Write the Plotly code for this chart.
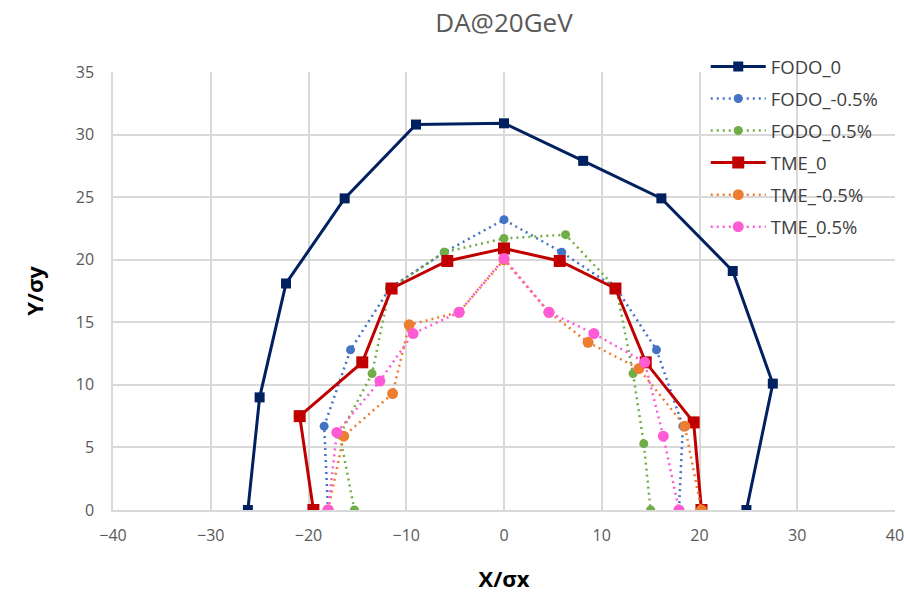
import plotly.graph_objects as go

# Dynamic aperture boundaries at 20 GeV, in units of beam sigma
fodo0_x = [-26.2, -25.0, -22.3, -16.3, -9.0, 0.0, 8.1, 16.1, 23.4, 27.5, 24.8]
fodo0_y = [0.0, 9.0, 18.1, 24.9, 30.8, 30.9, 27.9, 24.9, 19.1, 10.1, 0.0]

fodo_m_x = [-18.0, -18.4, -15.7, -11.7, -6.1, 0.0, 5.9, 11.5, 15.6, 18.3, 17.9]
fodo_m_y = [0.0, 6.7, 12.8, 17.7, 20.6, 23.2, 20.6, 17.7, 12.8, 6.7, 0.0]

fodo_p_x = [-15.3, -16.8, -13.5, -11.7, -6.1, 0.0, 6.3, 11.5, 13.2, 14.3, 15.0]
fodo_p_y = [0.0, 6.0, 10.9, 17.7, 20.6, 21.7, 22.0, 17.7, 10.9, 5.3, 0.0]

tme0_x = [-19.5, -20.9, -14.5, -11.5, -5.8, 0.0, 5.7, 11.4, 14.5, 19.4, 20.2]
tme0_y = [0.0, 7.5, 11.8, 17.7, 19.9, 20.9, 19.9, 17.7, 11.8, 7.0, 0.0]

tme_m_x = [-18.0, -16.4, -11.4, -9.7, -4.6, 0.0, 4.6, 8.6, 13.8, 18.5, 20.2]
tme_m_y = [0.0, 5.9, 9.3, 14.8, 15.8, 20.0, 15.8, 13.4, 11.3, 6.7, 0.0]

tme_p_x = [-18.0, -17.1, -12.7, -9.3, -4.6, 0.0, 4.6, 9.2, 14.4, 16.3, 17.9]
tme_p_y = [0.0, 6.2, 10.3, 14.1, 15.8, 20.1, 15.8, 14.1, 11.8, 5.9, 0.0]

series = [
    ("FODO_0", fodo0_x, fodo0_y, "#002060", "solid", "square", 10, 3),
    ("FODO_-0.5%", fodo_m_x, fodo_m_y, "#4472C4", "2px,4px", "circle", 9, 2.5),
    ("FODO_0.5%", fodo_p_x, fodo_p_y, "#70AD47", "2px,4px", "circle", 9, 2.5),
    ("TME_0", tme0_x, tme0_y, "#C00000", "solid", "square", 12, 3),
    ("TME_-0.5%", tme_m_x, tme_m_y, "#ED7D31", "2px,4px", "circle", 11, 2.5),
    ("TME_0.5%", tme_p_x, tme_p_y, "#FF5BD6", "2px,4px", "circle", 11, 2.5),
]

fig = go.Figure()
for name, xs, ys, color, dash, symbol, msize, lw in series:
    fig.add_trace(go.Scatter(
        x=xs, y=ys, name=name, legendgroup=name,
        mode="lines+markers",
        line=dict(color=color, width=lw, dash=dash),
        marker=dict(color=color, symbol=symbol, size=msize,
                    line=dict(width=0)),
    ))

grid = "#D9D9D9"
family = "Open Sans, Liberation Sans, sans-serif"
tick_font = dict(family=family, size=16, color="#595959")

fig.update_layout(
    width=904, height=595,
    margin=dict(l=113, r=9, t=72, b=85, autoexpand=False),
    paper_bgcolor="white", plot_bgcolor="white",
    title=dict(text="DA@20GeV", x=0.5, xref="paper", xanchor="center",
               y=1 - 23 / 595, yref="container", yanchor="middle",
               font=dict(family=family, size=26, color="#595959")),
    showlegend=True,
    legend=dict(x=0.758, xanchor="left", y=1.055, yanchor="top",
                bgcolor="rgba(0,0,0,0)", itemwidth=55,
                tracegroupgap=5,
                font=dict(family=family, size=18.5, color="#404040")),
    xaxis=dict(range=[-40, 40], dtick=10, tick0=0,
               showgrid=True, gridcolor=grid, gridwidth=1.5,
               zeroline=False, showline=True, linecolor=grid, linewidth=1.5,
               ticks="", ticklabelstandoff=10, tickfont=tick_font,
               ticklabeloverflow="allow",
               title=dict(text="<b>X/σx</b>", standoff=27,
                          font=dict(family=family, size=22, color="black"))),
    yaxis=dict(range=[0, 35], dtick=5, tick0=0,
               showgrid=True, gridcolor=grid, gridwidth=1.5,
               zeroline=False, showline=True, linecolor=grid, linewidth=1.5,
               ticks="", ticklabelstandoff=14, tickfont=tick_font,
               title=dict(text="<b>Y/σy</b>", standoff=26,
                          font=dict(family=family, size=22, color="black"))),
)

fig.write_html("out.html")
